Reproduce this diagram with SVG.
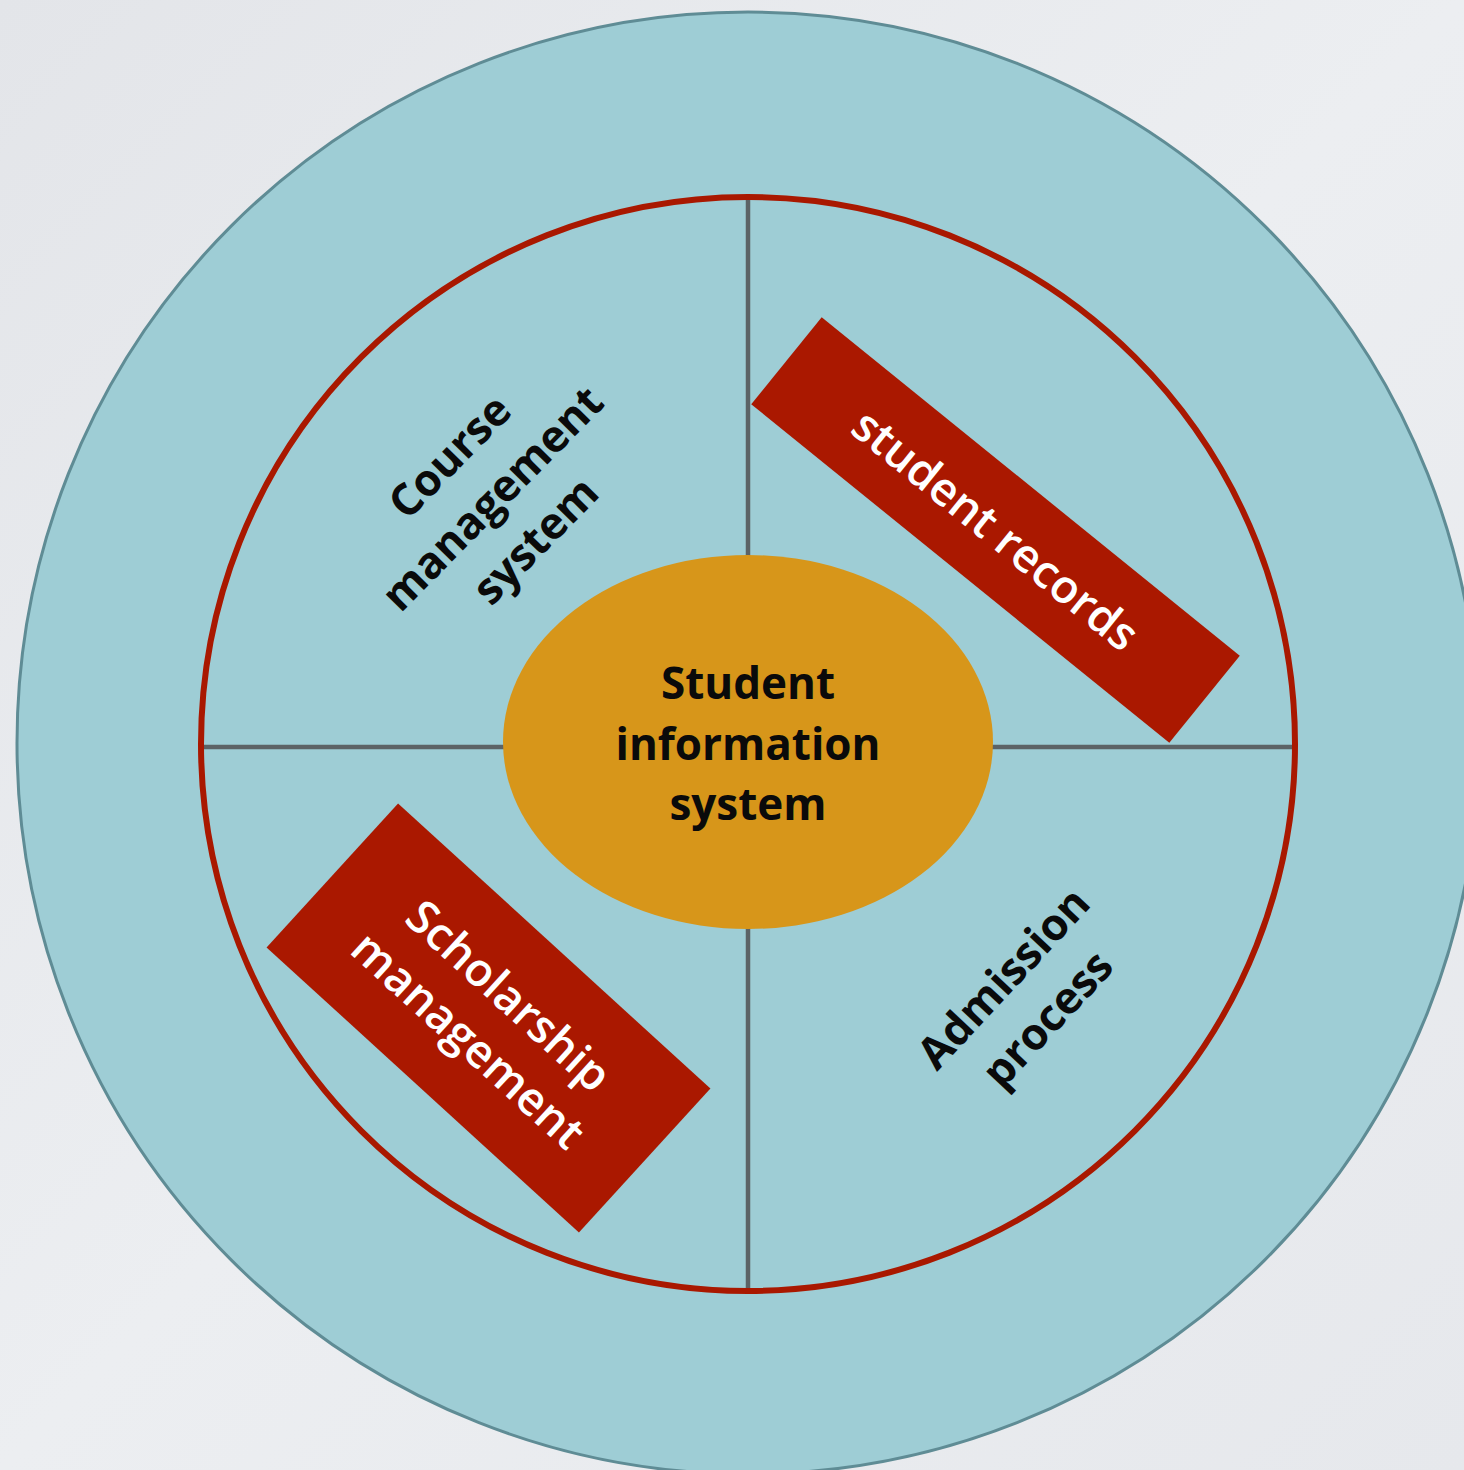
<svg xmlns="http://www.w3.org/2000/svg" width="1464" height="1470" viewBox="0 0 1464 1470">
<defs>
<linearGradient id="bg" x1="0" y1="0" x2="1" y2="1">
<stop offset="0" stop-color="#e3e5e9"/>
<stop offset="0.5" stop-color="#eceef1"/>
<stop offset="1" stop-color="#e6e8ec"/>
</linearGradient>
<style>
.lbl{font-family:"Open Sans","Liberation Sans",sans-serif;font-weight:600;font-size:45px;text-anchor:middle;}
.dark{fill:#0a0a0a;font-weight:700;font-size:44px;}
.light{fill:#ffffff;font-size:46px;}
.box{fill:#aa1800;}
.div{stroke:#5c6366;stroke-width:4.5;fill:none;}
</style>
</defs>
<rect x="0" y="0" width="1464" height="1470" fill="url(#bg)"/>
<g id="outer-ring">
<circle cx="748" cy="743" r="731" fill="#9ecdd5" stroke="#5f8c95" stroke-width="3"/>
</g>
<g id="connectors">
<line class="div" x1="748" y1="198" x2="748" y2="1289"/>
<line class="div" x1="204" y1="747" x2="1294" y2="747"/>
</g>
<g id="inner-ring">
<circle cx="748" cy="744" r="547" fill="none" stroke="#a91800" stroke-width="6"/>
</g>
<g id="center">
<ellipse cx="748" cy="742" rx="245" ry="187" fill="#d7961a"/>
<text class="lbl dark" x="748" y="699">Student</text>
<text class="lbl dark" x="748" y="760">information</text>
<text class="lbl dark" x="748" y="820">system</text>
</g>
<g id="course">
<g transform="translate(492,498) rotate(-45.5)">
<text class="lbl dark" x="0" y="-44">Course</text>
<text class="lbl dark" x="0" y="16">management</text>
<text class="lbl dark" x="0" y="76">system</text>
</g>
</g>
<g id="admission">
<g transform="translate(1025,998) rotate(-47)">
<text class="lbl dark" x="0" y="-14">Admission</text>
<text class="lbl dark" x="0" y="46">process</text>
</g>
</g>
<g id="records">
<g transform="translate(995.5,530) rotate(39)">
<rect class="box" x="-269" y="-56" width="538" height="112"/>
<text class="lbl light" x="0" y="16">student records</text>
</g>
</g>
<g id="scholarship">
<g transform="translate(488.5,1018) rotate(42.4)">
<rect class="box" x="-211.5" y="-97.5" width="423" height="195"/>
<text class="lbl light" x="0" y="-14">Scholarship</text>
<text class="lbl light" x="0" y="46">management</text>
</g>
</g>
</svg>
